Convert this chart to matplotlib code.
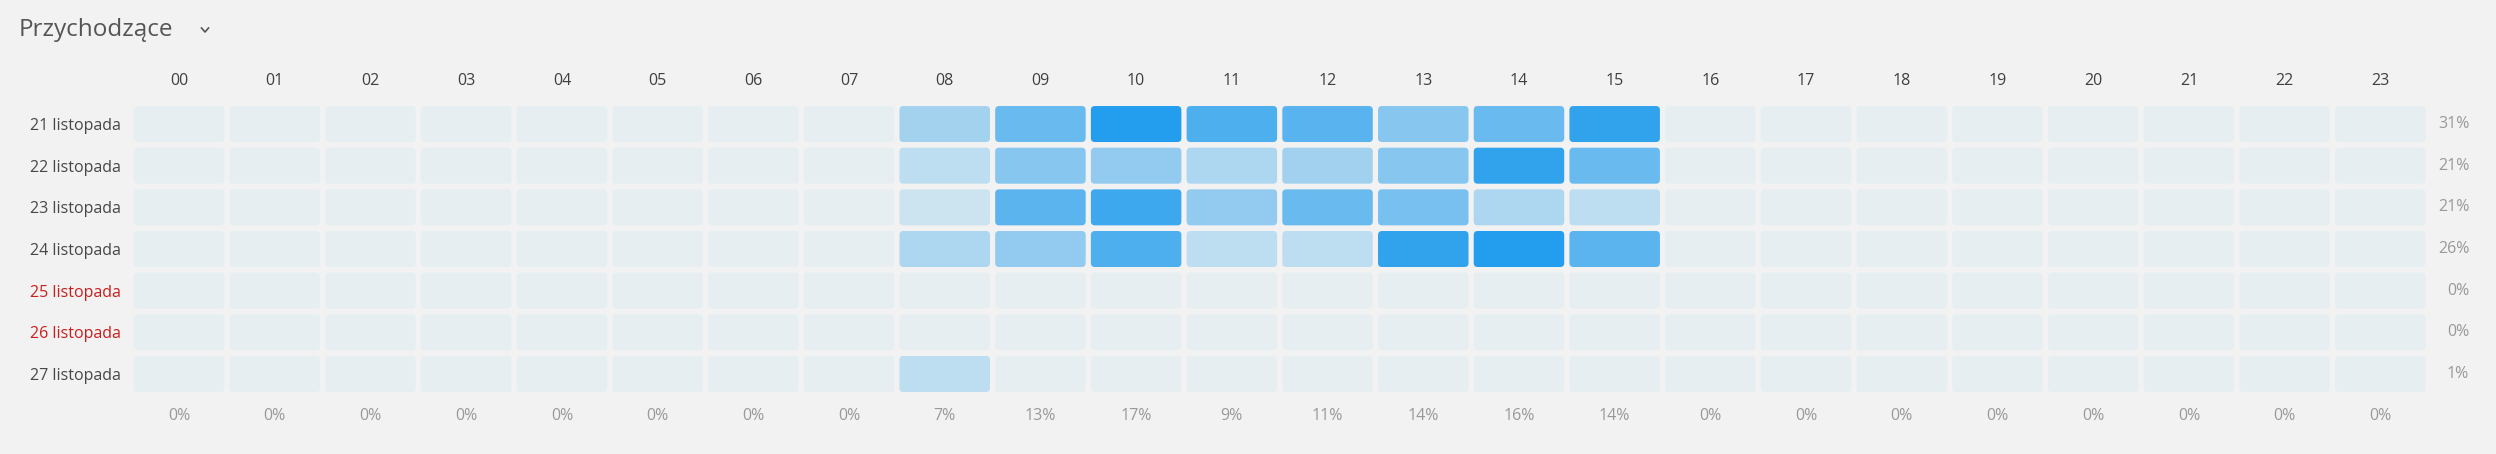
import numpy as np
import matplotlib.pyplot as plt
from matplotlib.patches import FancyBboxPatch
from matplotlib.lines import Line2D
from matplotlib.colors import to_rgb

plt.rcParams['font.family'] = ['Open Sans', 'DejaVu Sans']

# ==========================================
# データ
# ==========================================
title = "Przychodzące"
hours = [f"{h:02d}" for h in range(24)]
days = ["21 listopada", "22 listopada", "23 listopada", "24 listopada",
        "25 listopada", "26 listopada", "27 listopada"]
weekend = [False, False, False, False, True, True, False]

# 強度 (0-100), 08..15 時のみ値あり
active_hours = [8, 9, 10, 11, 12, 13, 14, 15]
day21 = [38, 66, 100, 79, 74, 52, 66, 93]
day22 = [25, 52, 46, 33, 39, 52, 93, 66]
day23 = [18, 73, 87, 46, 66, 59, 33, 25]
day24 = [33, 46, 79, 25, 25, 93, 100, 73]
day25 = [0, 0, 0, 0, 0, 0, 0, 0]
day26 = [0, 0, 0, 0, 0, 0, 0, 0]
day27 = [25, 0, 0, 0, 0, 0, 0, 0]

row_pct = ["31%", "21%", "21%", "26%", "0%", "0%", "1%"]
col_pct = ["0%"] * 8 + ["7%", "13%", "17%", "9%", "11%", "14%", "16%", "14%"] + ["0%"] * 8

# ==========================================
# 描画
# ==========================================
bg = "#f1f2f1"
empty = "#e7eef1"
blue = "#239ded"

grid = np.zeros((len(days), len(hours)))
for r, row in enumerate([day21, day22, day23, day24, day25, day26, day27]):
    for h, v in zip(active_hours, row):
        grid[r, h] = v

fig = plt.figure(figsize=(24.96, 4.54), dpi=100, facecolor=bg)
W, H = 2496, 454
x0, x1 = 131.2, 2428.2
y0, y1 = 103.2, 394.8
ax = fig.add_axes([x0 / W, 1 - y1 / H, (x1 - x0) / W, (y1 - y0) / H])
ax.set_facecolor(bg)
ax.set_xlim(-0.5, 23.5)
ax.set_ylim(6.5, -0.5)
for s in ax.spines.values():
    s.set_visible(False)

px_x = (x1 - x0) / 24  # px per column
px_y = (y1 - y0) / 7   # px per row
cw, ch = 90.5 / px_x, 36 / px_y
rad = 4 / px_x

bg_rgb = np.array(to_rgb(bg))
blue_rgb = np.array(to_rgb(blue))

for r in range(len(days)):
    for c in range(len(hours)):
        v = grid[r, c]
        if v > 0:
            a = v / 100
            col = bg_rgb * (1 - a) + blue_rgb * a
        else:
            col = empty
        p = FancyBboxPatch((c - cw / 2, r - ch / 2), cw, ch,
                           boxstyle=f"round,pad=0,rounding_size={rad}",
                           mutation_aspect=px_x / px_y,
                           facecolor=col, edgecolor="none")
        ax.add_patch(p)

fs = 11.5
ax.xaxis.tick_top()
ax.set_xticks(range(24))
ax.set_xticklabels(hours, fontsize=fs, color="#3f3f3f")
ax.set_yticks(range(len(days)))
ax.set_yticklabels(days, fontsize=fs)
for lbl, we in zip(ax.get_yticklabels(), weekend):
    lbl.set_color("#c81e1e" if we else "#474747")
ax.tick_params(axis="x", length=0, pad=10.5)
ax.tick_params(axis="y", length=0, pad=7.5)

for r, t in enumerate(row_pct):
    ax.text(23.5 + 41 / px_x, r, t, ha="right", va="center",
            fontsize=fs, color="#999999", clip_on=False)
for c, t in enumerate(col_pct):
    ax.text(c, 6.5 + 21 / px_y, t, ha="center", va="center",
            fontsize=fs, color="#999999", clip_on=False)

fig.text(19 / W, 1 - 30 / H, title, ha="left", va="center",
         fontsize=17.5, color="#555555")
# ドロップダウンの矢印
cx, cy = 205 / W, 1 - 30 / H
fig.add_artist(Line2D([cx - 3.5 / W, cx, cx + 3.5 / W],
                      [cy + 2 / H, cy - 2 / H, cy + 2 / H],
                      color="#555555", lw=1.2))

fig.savefig("out.png", dpi=100, facecolor=bg)
